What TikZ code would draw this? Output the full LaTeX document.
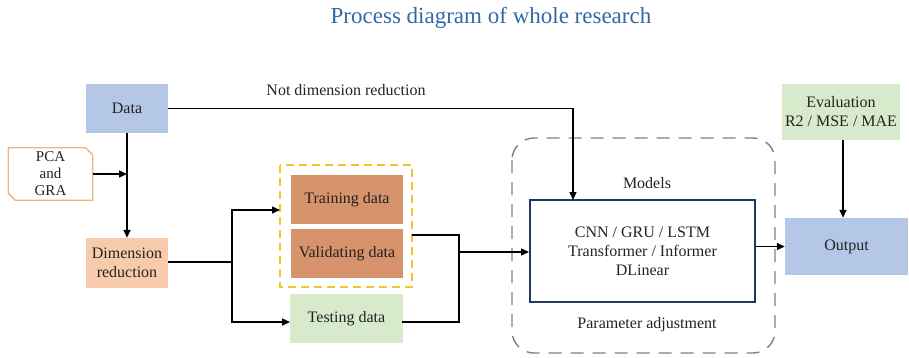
\documentclass[tikz,border=0pt]{standalone}
\usepackage{fontspec}
\setmainfont{Liberation Serif}
\usetikzlibrary{arrows.meta,calc}

\definecolor{titleblue}{RGB}{50,104,168}
\definecolor{boxblue}{RGB}{180,199,231}
\definecolor{peach}{RGB}{248,203,173}
\definecolor{terracotta}{RGB}{214,147,108}
\definecolor{palegreen}{RGB}{216,234,204}
\definecolor{goldline}{RGB}{240,198,40}
\definecolor{pcaline}{RGB}{240,180,130}
\definecolor{navy}{RGB}{31,56,100}
\definecolor{textgray}{RGB}{35,35,35}

\tikzset{
  blk/.style={inner sep=0pt, align=center, text=textgray, font=\fontsize{16}{19}\selectfont},
  filled/.style={blk, fill=#1},
  conn/.style={line width=1.4pt, black},
  arr/.style={conn, -{Triangle[length=8pt,width=7pt]}},
}

\begin{document}
\begin{tikzpicture}[x=1pt,y=-1pt]
  \useasboundingbox (0,0) rectangle (909,357);

  % title
  \node[font=\fontsize{23}{26}\selectfont, text=titleblue] (title) at (491,18) {Process diagram of whole research};

  % input side
  \node[filled=boxblue, minimum width=82pt, minimum height=49pt] (data) at (127,108.5) {Data};
  \node[blk, minimum width=84pt, minimum height=52pt, font=\fontsize{15}{17}\selectfont] (pca) at (50.5,174) {PCA\\and\\GRA};
  \draw[pcaline, line width=1.3pt]
    (pca.north west) -- ([xshift=-7pt]pca.north east) -- ([yshift=-7pt]pca.north east)
    -- (pca.south east) -- ([xshift=7pt]pca.south west) -- ([yshift=7pt]pca.south west) -- cycle;
  \node[filled=peach, minimum width=82pt, minimum height=50pt] (dim) at (127,263) {Dimension\\reduction};

  % data split
  \draw[goldline, line width=1.8pt, dash pattern=on 8pt off 5pt] (280,165) rectangle (412,287);
  \node[filled=terracotta, minimum width=112pt, minimum height=49pt] (train) at (347,199.5) {Training data};
  \node[filled=terracotta, minimum width=112pt, minimum height=49pt] (valid) at (347,253.5) {Validating data};
  \node[filled=palegreen, minimum width=113pt, minimum height=49pt] (test) at (346.5,318.5) {Testing data};

  % models
  \draw[gray, line width=1.4pt, dash pattern=on 13pt off 9pt, rounded corners=22pt] (512,138) rectangle (775,353);
  \node[blk] (models) at (647,183) {Models};
  \node[blk] (param) at (647,325) {Parameter adjustment};
  \node[blk, draw=navy, line width=2pt, minimum width=225pt, minimum height=102pt] (model) at (642.5,251)
    {CNN / GRU / LSTM\\Transformer / Informer\\DLinear};

  % outputs
  \node[filled=boxblue, minimum width=123pt, minimum height=57pt] (out) at (846.5,246.5) {Output};
  \node[filled=palegreen, minimum width=118pt, minimum height=56pt] (eval) at (841,112) {Evaluation\\R2 / MSE / MAE};

  % junction points
  \coordinate (split) at (232,262);
  \coordinate (trainin) at (280,210);
  \coordinate (testin) at (290,322);
  \coordinate (validout) at (412,235);
  \coordinate (testout) at (402,322);
  \coordinate (merge) at (459,252);
  \coordinate (modeltop) at (573,200);

  % connectors
  \draw[arr] (data.east) -| (modeltop);
  \node[blk, anchor=base] (ndr) at (346,95) {Not dimension reduction};
  \draw[arr] (data.south) -- (dim.north);
  \draw[arr] (pca.east) -- (pca.east -| data.south);
  \draw[conn] (dim.east |- split) -- (split);
  \draw[arr] (split) |- (trainin);
  \draw[arr] (split) |- (testin);
  \draw[conn] (validout) -| (merge);
  \draw[conn] (testout) -| (merge);
  \draw[arr] (merge) -- (model.west |- merge);
  \draw[arr] (model.east |- out.west) -- (out.west);
  \draw[arr] (eval.south -| 843,0) -- (out.north -| 843,0);
\end{tikzpicture}
\end{document}
